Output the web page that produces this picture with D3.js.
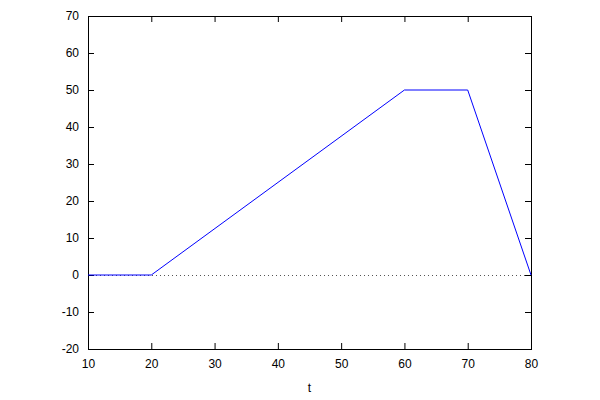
<!DOCTYPE html>
<html><head><meta charset="utf-8">
<script src="https://cdn.jsdelivr.net/npm/d3@7"></script>
<style>body{margin:0;background:#fff}svg{display:block}text{font-family:"Liberation Sans",Arial,sans-serif;font-size:12px;fill:#000}</style>
</head><body><svg id="c" width="600" height="400"></svg>
<script>
const tVals = [10, 20, 60, 70, 80];
const yVals = [0, 0, 50, 50, 0];
const xTicks = [10, 20, 30, 40, 50, 60, 70, 80];
const yTicks = [-20, -10, 0, 10, 20, 30, 40, 50, 60, 70];
const xLabel = "t";

const svg = d3.select("#c");
const L = 88, R = 531, T = 16, B = 349;
const x = d3.scaleLinear().domain([10, 80]).range([L, R]);
const y = d3.scaleLinear().domain([-20, 70]).range([B, T]);
const tl = 6;
const fmt = d => String(d);

// zero line dotted
svg.append("line").attr("x1", L).attr("x2", R).attr("y1", y(0) + 0.5).attr("y2", y(0) + 0.5)
  .attr("stroke", "#555").attr("stroke-width", 1).attr("stroke-dasharray", "1,3");

// axes with inner ticks
const axB = d3.axisBottom(x).tickValues(xTicks).tickFormat(fmt).tickSizeInner(-tl).tickSizeOuter(0).tickPadding(10);
const axT = d3.axisTop(x).tickValues(xTicks).tickSizeInner(-tl).tickSizeOuter(0).tickFormat("");
const axL = d3.axisLeft(y).tickValues(yTicks).tickFormat(fmt).tickSizeInner(-tl).tickSizeOuter(0).tickPadding(9);
const axR = d3.axisRight(y).tickValues(yTicks).tickSizeInner(-tl).tickSizeOuter(0).tickFormat("");
function style(g) {
  g.select(".domain").remove();
  g.selectAll("line").attr("stroke", "#000");
  g.selectAll("text").attr("font-family", null).attr("font-size", null).attr("fill", "#000");
}
svg.append("g").attr("transform", `translate(0,${B})`).call(axB).call(style)
  .selectAll(".tick").filter(d => d === 10 || d === 80).select("line").remove();
svg.append("g").attr("transform", `translate(0,${T})`).call(axT).call(style)
  .selectAll(".tick").filter(d => d === 10 || d === 80).select("line").remove();
svg.append("g").attr("transform", `translate(${L},0)`).call(axL).call(style)
  .selectAll(".tick").filter(d => d === -20 || d === 70).select("line").remove();
svg.append("g").attr("transform", `translate(${R},0)`).call(axR).call(style)
  .selectAll(".tick").filter(d => d === -20 || d === 70).select("line").remove();

// frame
svg.append("rect").attr("x", L + 0.5).attr("y", T + 0.5).attr("width", R - L).attr("height", B - T)
  .attr("fill", "none").attr("stroke", "#000").attr("stroke-width", 1);

// data line
const pts = tVals.map((t, i) => [t, yVals[i]]);
svg.append("path").datum(pts)
  .attr("d", d3.line().x(d => x(d[0])).y(d => y(d[1])))
  .attr("fill", "none").attr("stroke", "#0000ff").attr("stroke-width", 1);

svg.append("text").attr("x", (L + R) / 2).attr("y", 392).attr("text-anchor", "middle").text(xLabel);
</script></body></html>
